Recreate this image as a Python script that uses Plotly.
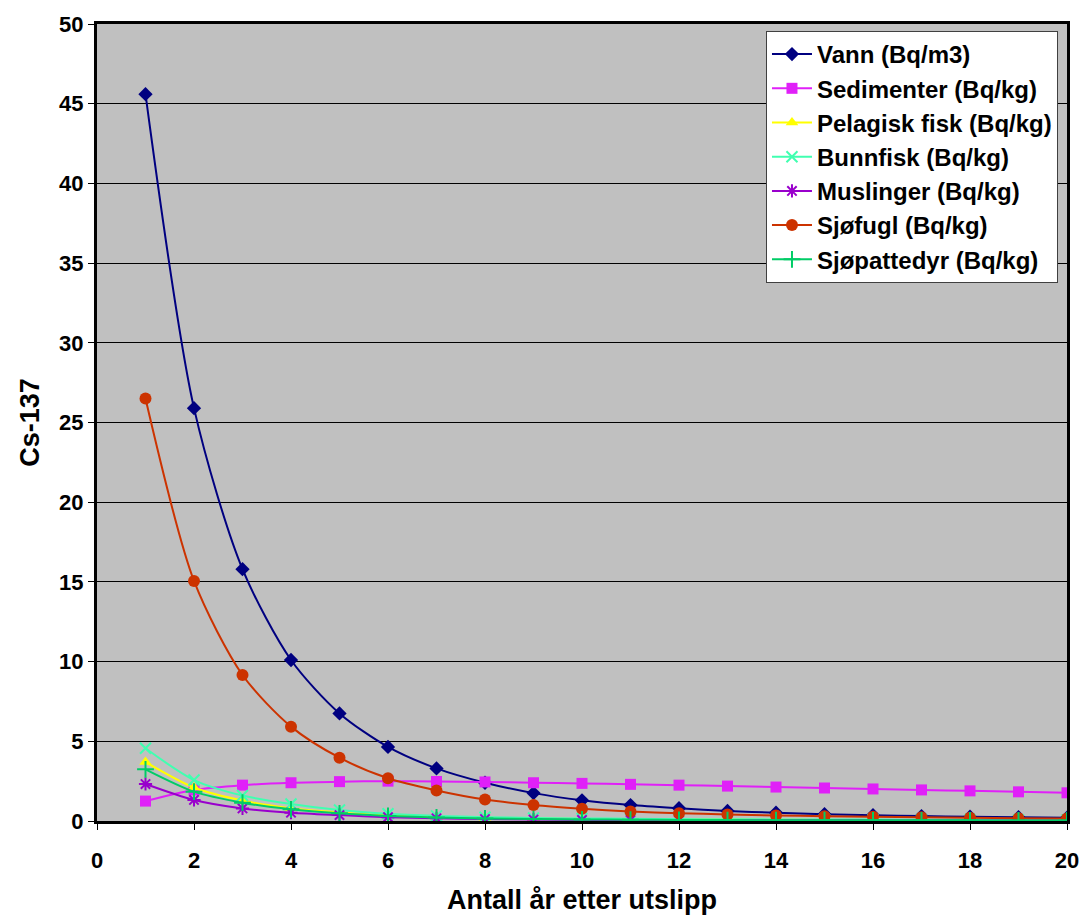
import plotly.graph_objects as go

# Years after release
years = list(range(1, 21))

vann = [45.6, 25.9, 15.8, 10.1, 6.75, 4.65, 3.3, 2.4, 1.75, 1.3,
        1.0, 0.8, 0.63, 0.52, 0.43, 0.36, 0.31, 0.27, 0.24, 0.21]
sedimenter = [1.25, 1.95, 2.25, 2.4, 2.47, 2.5, 2.48, 2.45, 2.4, 2.36,
              2.3, 2.25, 2.19, 2.13, 2.07, 2.01, 1.95, 1.89, 1.83, 1.77]
pelagisk = [3.7, 2.1, 1.28, 0.8, 0.54, 0.37, 0.27, 0.2, 0.16, 0.13,
            0.11, 0.1, 0.09, 0.08, 0.07, 0.07, 0.06, 0.06, 0.05, 0.05]
bunnfisk = [4.56, 2.57, 1.6, 1.07, 0.69, 0.45, 0.32, 0.24, 0.19, 0.16,
            0.14, 0.12, 0.11, 0.1, 0.09, 0.09, 0.08, 0.08, 0.07, 0.07]
muslinger = [2.32, 1.32, 0.79, 0.52, 0.37, 0.24, 0.17, 0.12, 0.09, 0.07,
             0.06, 0.05, 0.05, 0.04, 0.04, 0.04, 0.03, 0.03, 0.03, 0.03]
sjofugl = [26.5, 15.06, 9.16, 5.92, 3.97, 2.68, 1.92, 1.35, 1.0, 0.77,
           0.6, 0.49, 0.41, 0.35, 0.3, 0.26, 0.23, 0.2, 0.18, 0.16]
sjopattedyr = [3.24, 1.84, 1.15, 0.73, 0.48, 0.32, 0.22, 0.16, 0.12, 0.1,
               0.08, 0.07, 0.06, 0.05, 0.05, 0.04, 0.04, 0.04, 0.03, 0.03]

x_ticks = list(range(0, 21, 2))
y_ticks = list(range(0, 51, 5))

series = [
    ("Vann (Bq/m3)", vann, "#000080", "diamond", 11),
    ("Sedimenter (Bq/kg)", sedimenter, "#E020F8", "square", 11),
    ("Pelagisk fisk (Bq/kg)", pelagisk, "#FFFF00", "triangle-up", 11),
    ("Bunnfisk (Bq/kg)", bunnfisk, "#40FFB0", "x-thin-open", 11),
    ("Muslinger (Bq/kg)", muslinger, "#9900CC", "asterisk-open", 11),
    ("Sjøfugl (Bq/kg)", sjofugl, "#CC3300", "circle", 12),
    ("Sjøpattedyr (Bq/kg)", sjopattedyr, "#00CC66", "cross-thin-open", 12),
]

fig = go.Figure()
for name, vals, color, symbol, size in series:
    thin = symbol.endswith("-open")
    fig.add_trace(go.Scatter(
        x=years, y=vals, name=name, mode="lines+markers",
        line=dict(color=color, width=2, shape="spline", smoothing=0.8),
        marker=dict(symbol=symbol, size=size, color=color,
                    line=dict(color=color, width=2 if thin else 0)),
    ))

font_family = "Liberation Sans, Arial, sans-serif"

fig.update_layout(
    width=1080, height=915,
    margin=dict(l=97, r=13, t=24, b=94),
    paper_bgcolor="white",
    plot_bgcolor="#C0C0C0",
    font=dict(family=font_family, size=22, color="black"),
    showlegend=True,
    legend=dict(
        x=0.9907, y=0.9912, xanchor="right", yanchor="top",
        bgcolor="white", bordercolor="#404040", borderwidth=1,
        font=dict(family=font_family, size=24, color="black", weight="bold"),
        tracegroupgap=0, itemwidth=40,
    ),
    xaxis=dict(
        range=[0, 20], tickvals=x_ticks,
        ticktext=[f"<b>{v}</b>" for v in x_ticks],
        showgrid=False, zeroline=False, automargin=False,
        showline=True, linecolor="black", linewidth=3, mirror=True,
        ticks="outside", ticklen=6, tickcolor="black", tickwidth=1,
        ticklabelstandoff=12,
        tickfont=dict(family=font_family, size=22),
        title=dict(text="<b>Antall år etter utslipp</b>", standoff=18,
                   font=dict(family=font_family, size=27)),
    ),
    yaxis=dict(
        range=[0, 50], tickvals=y_ticks,
        ticktext=[f"<b>{v}</b>" for v in y_ticks],
        showgrid=True, gridcolor="black", gridwidth=1, zeroline=False,
        automargin=False,
        showline=True, linecolor="black", linewidth=3, mirror=True,
        ticks="outside", ticklen=6, tickcolor="black", tickwidth=1,
        ticklabelstandoff=0,
        tickfont=dict(family=font_family, size=22),
        title=dict(text="<b>Cs-137</b>", standoff=12,
                   font=dict(family=font_family, size=27)),
    ),
)

fig.write_html("out.html")
